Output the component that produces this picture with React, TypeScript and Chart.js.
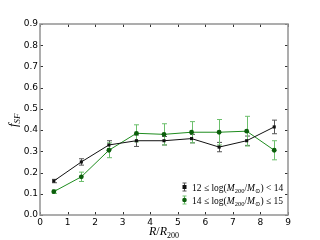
import React, { useEffect, useRef } from "react";
import { Chart, registerables } from "chart.js";

Chart.register(...registerables);

const radii = [0.5, 1.5, 2.5, 3.5, 4.5, 5.5, 6.5, 7.5, 8.5];
const lowMassF = [0.16, 0.25, 0.33, 0.35, 0.35, 0.36, 0.32, 0.35, 0.415];
const lowMassErr = [0.008, 0.015, 0.02, 0.027, 0.02, 0.02, 0.022, 0.022, 0.032];
const highMassF = [0.11, 0.18, 0.305, 0.385, 0.38, 0.39, 0.39, 0.395, 0.305];
const highMassErr = [0.008, 0.022, 0.035, 0.04, 0.05, 0.05, 0.06, 0.07, 0.045];
const xTicks = [0, 1, 2, 3, 4, 5, 6, 7, 8, 9];
const yTicks = [0, 0.1, 0.2, 0.3, 0.4, 0.5, 0.6, 0.7, 0.8, 0.9];

const BLACK = "#111111";
const BLACK_ERR = "#555555";
const GREEN_LINE = "#1e8c1e";
const GREEN_MARK = "#0b5e0b";
const GREEN_ERR = "#6cbf6c";

const MATH = "'Liberation Serif', 'DejaVu Serif', serif";

function drawRich(ctx: CanvasRenderingContext2D, parts: [string, string, number][], x: number, y: number) {
  // parts: [text, style('n'|'i'|'s'), size]
  let cx = x;
  for (const [t, s, size] of parts) {
    const italic = s.includes("i");
    const sub = s.includes("s");
    ctx.font = `${italic ? "italic " : ""}${size}px ${MATH}`;
    ctx.fillText(t, cx, sub ? y + size * 0.35 : y);
    cx += ctx.measureText(t).width;
  }
  return cx;
}

const errPlugin = {
  id: "errbars",
  beforeDatasetsDraw(chart: any) {
    const ctx = chart.ctx;
    const xs = chart.scales.x;
    const ys = chart.scales.y;
    chart.data.datasets.forEach((ds: any) => {
      ctx.save();
      ctx.strokeStyle = ds.errColor;
      ctx.lineWidth = 1;
      ds.data.forEach((p: any, i: number) => {
        const e = ds.errs[i];
        const px = Math.round(xs.getPixelForValue(p.x)) + 0.5;
        const y1 = ys.getPixelForValue(p.y - e);
        const y2 = ys.getPixelForValue(p.y + e);
        ctx.beginPath();
        ctx.moveTo(px, y1);
        ctx.lineTo(px, y2);
        ctx.moveTo(px - 2.5, y1);
        ctx.lineTo(px + 2.5, y1);
        ctx.moveTo(px - 2.5, y2);
        ctx.lineTo(px + 2.5, y2);
        ctx.stroke();
      });
      ctx.restore();
    });
  },
};

const framePlugin = {
  id: "frame",
  afterDraw(chart: any) {
    const ctx = chart.ctx;
    const a = chart.chartArea;
    const xs = chart.scales.x;
    const ys = chart.scales.y;
    ctx.save();
    ctx.strokeStyle = "#333";
    ctx.lineWidth = 1;
    ctx.beginPath();
    xTicks.forEach((v) => {
      const px = Math.round(xs.getPixelForValue(v)) + 0.5;
      ctx.moveTo(px, a.bottom);
      ctx.lineTo(px, a.bottom - 3);
      ctx.moveTo(px, a.top);
      ctx.lineTo(px, a.top + 3);
    });
    yTicks.forEach((v) => {
      const py = Math.round(ys.getPixelForValue(v)) + 0.5;
      ctx.moveTo(a.left, py);
      ctx.lineTo(a.left + 3, py);
      ctx.moveTo(a.right, py);
      ctx.lineTo(a.right - 3, py);
    });
    ctx.stroke();
    ctx.strokeStyle = "#999";
    ctx.lineWidth = 1.6;
    ctx.strokeRect(a.left, a.top, a.right - a.left, a.bottom - a.top);

    // axis titles
    ctx.fillStyle = "#000";
    ctx.textBaseline = "alphabetic";
    ctx.textAlign = "left";
    ctx.font = `italic 12px ${MATH}`;
    const xParts: [string, string, number][] = [
      ["R", "i", 12],
      ["/", "n", 12],
      ["R", "i", 12],
      ["200", "s", 8],
    ];
    let w = 0;
    xParts.forEach(([t, s, size]) => {
      ctx.font = `${s.includes("i") ? "italic " : ""}${size}px ${MATH}`;
      w += ctx.measureText(t).width;
    });
    const cx = (a.left + a.right) / 2;
    drawRich(ctx, xParts, cx - w / 2, 235);

    ctx.save();
    ctx.translate(17, 119);
    ctx.rotate(-Math.PI / 2);
    drawRich(ctx, [["f", "i", 13], ["SF", "is", 9]], -8, 0);
    ctx.restore();

    // legend
    const entries = [
      { label: ["12 ≤ log(", "M", "200", "/", "M", "⊙", ") < 14"], color: BLACK, err: BLACK_ERR, shape: "sq" },
      { label: ["14 ≤ log(", "M", "200", "/", "M", "⊙", ") ≤ 15"], color: GREEN_MARK, err: GREEN_ERR, shape: "ci" },
    ];
    entries.forEach((en, k) => {
      const y = 187 + k * 13;
      const mx = 184.5;
      ctx.strokeStyle = en.err;
      ctx.lineWidth = 1;
      ctx.beginPath();
      ctx.moveTo(mx, y - 4);
      ctx.lineTo(mx, y + 4);
      ctx.moveTo(mx - 2, y - 4);
      ctx.lineTo(mx + 2, y - 4);
      ctx.moveTo(mx - 2, y + 4);
      ctx.lineTo(mx + 2, y + 4);
      ctx.stroke();
      ctx.fillStyle = en.color;
      if (en.shape === "sq") {
        ctx.fillRect(mx - 2, y - 2, 4, 4);
      } else {
        ctx.beginPath();
        ctx.arc(mx, y, 2.3, 0, Math.PI * 2);
        ctx.fill();
      }
      ctx.fillStyle = "#000";
      const L = en.label;
      drawRich(
        ctx,
        [
          [L[0], "n", 9.5],
          [L[1], "i", 9.5],
          [L[2], "s", 6.5],
          [L[3], "n", 9.5],
          [L[4], "i", 9.5],
          [L[5], "s", 6.5],
          [L[6], "n", 9.5],
        ],
        192,
        y + 3.5
      );
    });
    ctx.restore();
  },
};

export default function App() {
  const ref = useRef<HTMLCanvasElement | null>(null);
  useEffect(() => {
    if (!ref.current) return;
    const chart = new Chart(ref.current, {
      type: "line",
      data: {
        datasets: [
          {
            label: "12 ≤ log(M200/M⊙) < 14",
            data: radii.map((x, i) => ({ x, y: lowMassF[i] })),
            errs: lowMassErr,
            errColor: BLACK_ERR,
            borderColor: BLACK,
            backgroundColor: BLACK,
            borderWidth: 1,
            pointStyle: "rect",
            pointRadius: 2.2,
            pointBorderWidth: 0,
          } as any,
          {
            label: "14 ≤ log(M200/M⊙) ≤ 15",
            data: radii.map((x, i) => ({ x, y: highMassF[i] })),
            errs: highMassErr,
            errColor: GREEN_ERR,
            borderColor: GREEN_LINE,
            backgroundColor: GREEN_MARK,
            borderWidth: 1,
            pointStyle: "circle",
            pointRadius: 2.4,
            pointBorderWidth: 0,
          } as any,
        ],
      },
      options: {
        animation: false,
        responsive: false,
        layout: { padding: { top: 24, right: 32, bottom: 0, left: 0 } },
        plugins: { legend: { display: false }, tooltip: { enabled: false } },
        scales: {
          x: {
            type: "linear",
            min: 0,
            max: 9,
            afterBuildTicks: (s: any) => {
              s.ticks = xTicks.map((v) => ({ value: v }));
            },
            afterFit: (s: any) => {
              s.height = 25;
            },
            grid: { display: false, drawTicks: false },
            border: { display: false },
            ticks: {
              padding: 2,
              color: "#000",
              font: { family: "'DejaVu Sans', sans-serif", size: 9 },
              callback: (v: any) => String(v),
            },
          },
          y: {
            type: "linear",
            min: 0,
            max: 0.9,
            afterBuildTicks: (s: any) => {
              s.ticks = yTicks.map((v) => ({ value: v }));
            },
            afterFit: (s: any) => {
              s.width = 40;
            },
            grid: { display: false, drawTicks: false },
            border: { display: false },
            ticks: {
              padding: 2,
              color: "#000",
              font: { family: "'DejaVu Sans', sans-serif", size: 9 },
              callback: (v: any) => Number(v).toFixed(1),
            },
          },
        },
      },
      plugins: [errPlugin, framePlugin],
    } as any);
    return () => chart.destroy();
  }, []);
  return (
    <div style={{ position: "fixed", left: 0, top: 0, width: 320, height: 240, background: "#fff" }}>
      <canvas ref={ref} width={320} height={240} style={{ width: 320, height: 240 }} />
    </div>
  );
}
